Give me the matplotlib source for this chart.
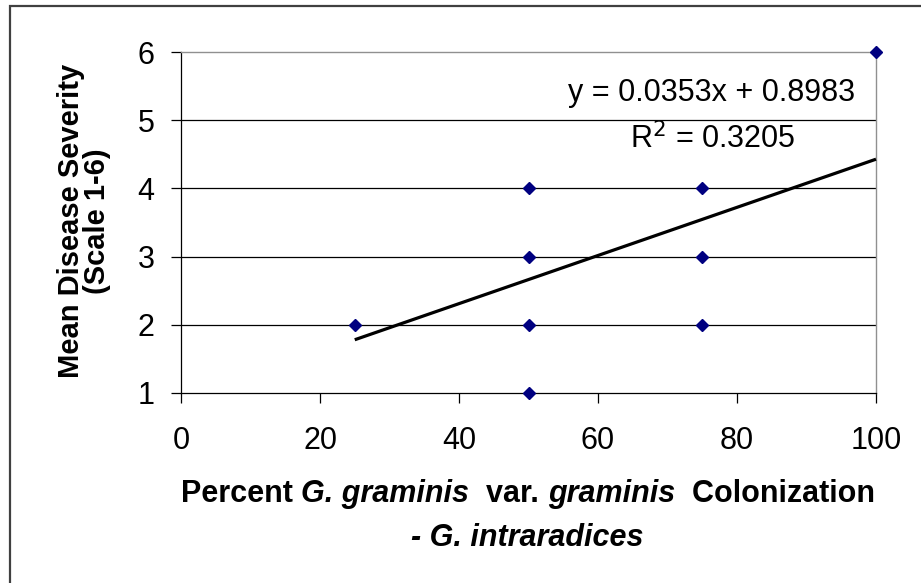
import matplotlib
matplotlib.use('AGG')

import numpy as np
import matplotlib.pyplot as plt
from matplotlib.patches import Rectangle

plt.rcParams['font.family'] = ['Liberation Sans', 'DejaVu Sans']

# colonization (%) vs. mean disease severity
colonization = [25, 50, 50, 50, 50, 75, 75, 75, 100]
severity = [2, 1, 2, 3, 4, 2, 3, 4, 6]

# fitted trendline as reported
slope = 0.0353
intercept = 0.8983
r_squared = 0.3205

x_ticks = [0, 20, 40, 60, 80, 100]
y_ticks = [1, 2, 3, 4, 5, 6]

W, H = 921, 583
fig = plt.figure(figsize=(W / 100, H / 100), dpi=100)
fig.patch.set_facecolor('white')

# chart border
fig.patches.append(Rectangle((10 / W, -0.1), 1.2, 1 - 6 / H + 0.1,
                             transform=fig.transFigure, fill=False,
                             edgecolor='#404040', linewidth=1.6))

ax = fig.add_axes([181 / W, 1 - 393 / H, (876 - 181) / W, (393 - 52) / H])
ax.set_xlim(0, 100)
ax.set_ylim(1, 6)

for yv in y_ticks[1:-1]:
    ax.axhline(yv, color='black', linewidth=0.9, zorder=1)

for side in ['top', 'right']:
    ax.spines[side].set_color('#909090')
    ax.spines[side].set_linewidth(1.0)
for side in ['left', 'bottom']:
    ax.spines[side].set_color('black')
    ax.spines[side].set_linewidth(0.9)

ax.set_xticks(x_ticks)
ax.set_yticks(y_ticks)
ax.tick_params(axis='both', direction='out', length=7, width=0.9,
               labelsize=22, colors='black')
ax.tick_params(axis='x', pad=17)
ax.tick_params(axis='y', pad=12)

xs = np.array([min(colonization), max(colonization)])
ax.plot(xs, slope * xs + intercept, color='black', linewidth=2.3, zorder=3,
        solid_capstyle='butt', clip_on=False)
ax.plot(colonization, severity, linestyle='none', marker='D', markersize=6,
        color='#000080', markeredgecolor='#000080', zorder=4, clip_on=False)

ax.text(712 / W, 1 - 93 / H, 'y = %.4fx + %.4f' % (slope, intercept),
        transform=fig.transFigure, ha='center', va='center', fontsize=22)
ax.text(713 / W, 1 - 139 / H, r'R$^{2}$ = %.4f' % r_squared,
        transform=fig.transFigure, ha='center', va='center', fontsize=22)

# y-axis title
fig.text(84 / W, 1 - 221 / H, 'Mean Disease Severity\n(Scale 1-6)',
         rotation=90, ha='center', va='center', multialignment='center',
         linespacing=0.95, fontsize=21, fontweight='bold')


def rich_line(fig, parts, xc, yc, size):
    # lay out bold / bold-italic pieces on one line, centred at xc
    renderer = fig.canvas.get_renderer()
    texts = []
    for s, style in parts:
        t = fig.text(0, yc, s, fontsize=size, fontweight='bold',
                     fontstyle=style, va='center', ha='left')
        texts.append(t)
    widths = [t.get_window_extent(renderer).width for t in texts]
    x = xc * W - sum(widths) / 2
    for t, w in zip(texts, widths):
        t.set_x(x / W)
        x += w


rich_line(fig, [('Percent ', 'normal'), ('G. graminis', 'italic'),
                ('  var. ', 'normal'), ('graminis', 'italic'),
                ('  Colonization', 'normal')], 528 / W, 1 - 494 / H, 22)
rich_line(fig, [('- G. intraradices', 'italic')], 527 / W, 1 - 538 / H, 22)

fig.savefig('out.png', dpi=100, facecolor='white')
